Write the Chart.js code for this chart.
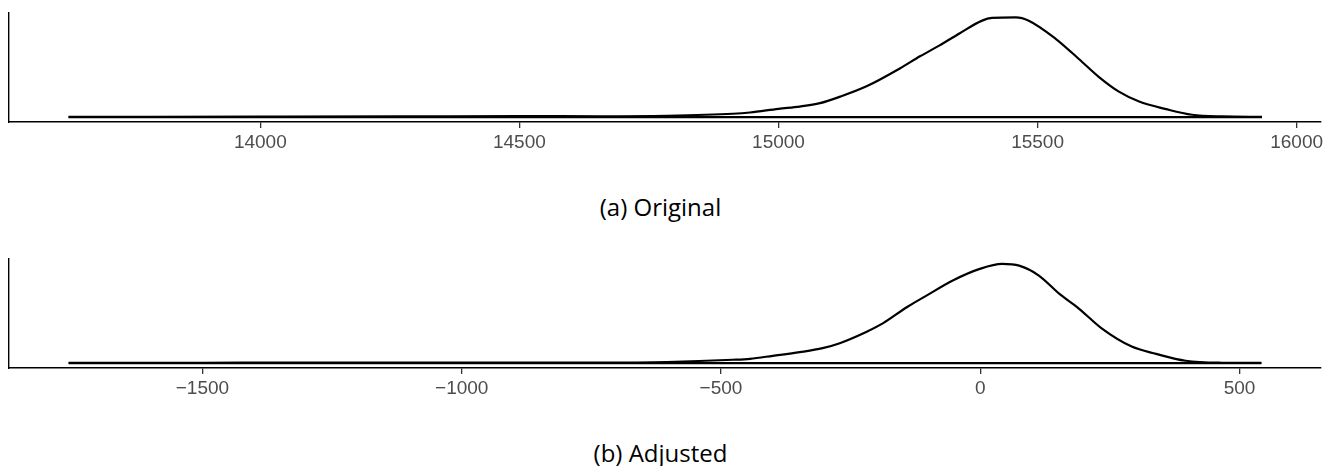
<!DOCTYPE html>
<html>
<head>
<meta charset="utf-8">
<script src="https://cdn.jsdelivr.net/npm/chart.js@4.4.0/dist/chart.umd.min.js"></script>
<style>
  body { margin: 0; background: #fff; width: 1339px; height: 466px; overflow: hidden; }
  .panel { position: absolute; left: 0; width: 1339px; height: 162px; }
  .caption { position: absolute; left: 0; width: 1321px; text-align: center;
             font-family: "Open Sans", sans-serif; font-size: 24px; line-height: 24px; color: #000; }
</style>
</head>
<body>
<div class="panel" style="top:0px"><canvas id="orig_chart"></canvas></div>
<div class="caption" style="top:195px">(a) Original</div>
<div class="panel" style="top:246px"><canvas id="adj_chart"></canvas></div>
<div class="caption" style="top:441px">(b) Adjusted</div>
<script>
// density (a) original - x values and heights
const origX = [13630, 14000, 14270, 14500, 14656, 14785, 14912, 14945, 15000, 15041, 15080, 15119, 15171, 15234, 15273, 15311, 15350, 15393, 15412, 15458, 15483, 15535, 15586, 15618, 15657, 15696, 15748, 15798, 15856, 15933];
const origY = [0.002, 0.004, 0.006, 0.009, 0.008, 0.013, 0.033, 0.046, 0.083, 0.106, 0.14, 0.206, 0.313, 0.49, 0.613, 0.723, 0.846, 0.973, 1.0, 1.006, 0.973, 0.79, 0.556, 0.406, 0.256, 0.156, 0.08, 0.023, 0.006, 0.002];
const origTicks = [14000, 14500, 15000, 15500, 16000];
const origRange = [13515, 16047];

// density (b) adjusted
const adjX = [-1758, -1500, -1200, -1000, -733, -604, -477, -444, -400, -348, -304, -271, -219, -188, -141, -103, -53, -1, 42, 75, 113, 152, 190, 234, 292, 339, 396, 465, 542];
const adjY = [0.002, 0.003, 0.004, 0.004, 0.004, 0.01, 0.033, 0.043, 0.073, 0.11, 0.15, 0.2, 0.316, 0.4, 0.566, 0.683, 0.833, 0.95, 1.0, 0.983, 0.883, 0.7, 0.55, 0.35, 0.166, 0.093, 0.023, 0.003, 0.001];
const adjTicks = [-1500, -1000, -500, 0, 500];
const adjRange = [-1873, 657];

const yRange = [-0.05, 1.05];

// build one density panel
function densityChart(id, xs, ys, ticks, range) {
  const curve = xs.map(function (x, i) { return { x: x, y: ys[i] }; });
  const base = [{ x: xs[0], y: 0 }, { x: xs[xs.length - 1], y: 0 }];
  const config = {
    type: "line",
    data: {
      datasets: [
        {
          data: curve,
          borderColor: "#000",
          borderWidth: 2.2,
          pointRadius: 0,
          cubicInterpolationMode: "monotone",
          fill: false,
        },
        {
          data: base,
          borderColor: "#000",
          borderWidth: 2.2,
          pointRadius: 0,
          fill: false,
        },
      ],
    },
    options: {
      responsive: true,
      maintainAspectRatio: false,
      animation: false,
      layout: { padding: { top: 13, left: 9, right: 18, bottom: 0 } },
      plugins: { legend: { display: false }, tooltip: { enabled: false } },
      scales: {
        x: {
          type: "linear",
          min: range[0],
          max: range[1],
          afterBuildTicks: function (scale) {
            scale.ticks = ticks.map(function (v) { return { value: v }; });
          },
          afterFit: function (scale) { scale.height = 40; },
          grid: { drawOnChartArea: false, drawTicks: true, tickLength: 6, color: "#333", lineWidth: 1.3 },
          border: { display: true, color: "#000", width: 1.4 },
          ticks: {
            color: "#4D4D4D",
            padding: 3,
            maxRotation: 0,
            autoSkip: false,
            font: { family: "Liberation Sans", size: 19 },
            callback: function (v) { return v < 0 ? "\u2212" + Math.abs(v) : String(v); },
          },
        },
        y: {
          min: yRange[0],
          max: yRange[1],
          afterFit: function (scale) { scale.width = 0; },
          grid: { display: false, drawTicks: false },
          border: { display: true, color: "#000", width: 1.4 },
          ticks: { display: false },
        },
      },
    },
  };
  return new Chart(document.getElementById(id), config);
}

densityChart("orig_chart", origX, origY, origTicks, origRange);
densityChart("adj_chart", adjX, adjY, adjTicks, adjRange);
</script>
</body>
</html>
